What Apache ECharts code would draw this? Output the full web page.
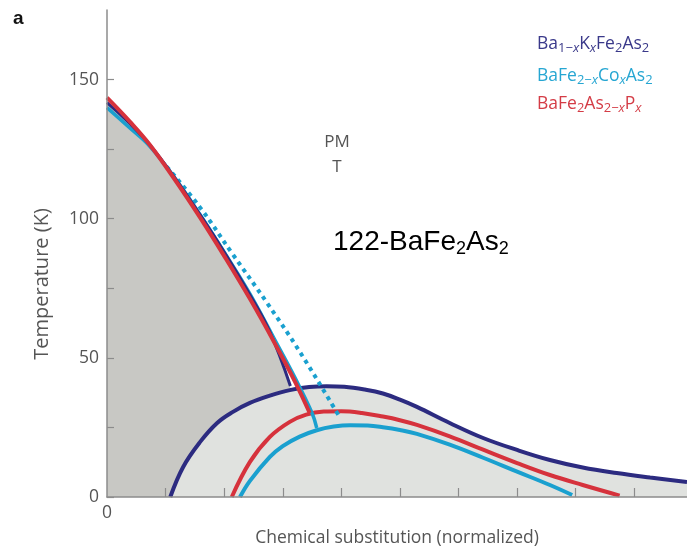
<!DOCTYPE html>
<html>
<head>
<meta charset="utf-8">
<script src="https://cdn.jsdelivr.net/npm/echarts@6/dist/echarts.min.js"></script>
<style>
  html, body { margin: 0; padding: 0; background: #fff; }
  #chart { width: 687px; height: 547px; }
</style>
</head>
<body>
<div id="chart"></div>
<script>
// Axis ticks and labels
const xTickValues = [1, 2, 3, 4, 5, 6, 7, 8, 9];
const xLabelValues = [0];
const yTickValues = [0, 25, 50, 75, 100, 125, 150];
const yLabelValues = [0, 50, 100, 150];

// Magnetic / structural transition lines: [substitution (normalized), T (K)]
const afmK  = [[0, 141.7], [0.39, 134.2], [0.73, 126.6], [1.16, 114.6], [1.59, 101.4], [2.01, 87.7], [2.44, 72.6], [2.78, 59.3], [3.13, 39.9]];
const afmP  = [[0, 143.5], [0.39, 134.9], [0.73, 126.6], [1.16, 114.0], [1.59, 100.4], [2.01, 86.3], [2.44, 71.2], [2.87, 55.0], [3.21, 41.4], [3.46, 30.2]];
const afmCo = [[0, 139.9], [0.39, 132.6], [0.73, 126.0], [1.16, 114.6], [1.59, 101.4], [2.01, 87.7], [2.44, 73.0], [2.92, 54.3], [3.21, 42.8], [3.50, 30.2], [3.58, 24.8]];
const structCo = [[1.02, 118.7], [1.59, 104.0], [2.15, 87.1], [2.73, 69.8], [3.29, 52.2], [3.98, 28.4]];

// Superconducting domes
const scK  = [[1.08, 0], [1.30, 10.8], [1.59, 19.8], [1.88, 26.6], [2.15, 30.6], [2.44, 33.8], [2.78, 36.4], [3.12, 38.4], [3.45, 39.5], [3.75, 39.8], [4.05, 39.6], [4.40, 38.6], [4.71, 37.2], [5.00, 35.0], [5.29, 32.4], [5.85, 26.6], [6.42, 21.2], [7.00, 16.9], [7.56, 13.3], [8.12, 10.6], [8.70, 8.6], [9.27, 7.0], [9.90, 5.4]];
const scP  = [[2.13, 0], [2.44, 12.6], [2.78, 21.6], [3.12, 27.0], [3.40, 29.6], [3.70, 30.7], [4.00, 30.8], [4.35, 30.2], [4.71, 28.9], [5.00, 27.6], [5.29, 25.9], [5.85, 21.8], [6.42, 17.0], [7.00, 12.2], [7.56, 7.9], [8.12, 4.3], [8.75, 0.5]];
const scCo = [[2.27, 0], [2.44, 5.8], [2.78, 14.4], [3.00, 18.3], [3.29, 21.7], [3.58, 24.0], [3.87, 25.3], [4.15, 25.8], [4.45, 25.7], [4.71, 25.1], [5.00, 24.1], [5.29, 22.7], [5.85, 18.8], [6.42, 14.1], [7.00, 9.1], [7.56, 4.3], [7.94, 0.7]];

const NAVY = '#2c2b80';
const CYAN = '#1aa0cf';
const RED = '#d6323c';
const AXIS = '#8c8c8c';
const TEXT = '#555555';
const FONT = '"Open Sans", "Noto Sans", sans-serif';
const ARIAL = '"Liberation Sans", Arial, sans-serif';

const chart = echarts.init(document.getElementById('chart'), null, { renderer: 'canvas' });

function line(name, data, color, width, z, extra) {
  return Object.assign({
    name, type: 'line', data, smooth: 0.4, symbol: 'none', z,
    lineStyle: { color, width, cap: 'butt' }, silent: true
  }, extra || {});
}

// Rich text pieces for chemical formulas with subscripts
function richFormula(color, size, subSize) {
  return {
    m: { fontSize: size, fontFamily: FONT, fill: color, lineHeight: 22, verticalAlign: 'middle' },
    s: { fontSize: subSize, fontFamily: FONT, fill: color, lineHeight: 10, verticalAlign: 'bottom' },
    i: { fontSize: subSize, fontFamily: FONT, fill: color, fontStyle: 'italic', lineHeight: 10, verticalAlign: 'bottom' }
  };
}

function formulaText(text, x, y, color) {
  return {
    type: 'text', x, y, silent: true,
    style: { text, align: 'left', verticalAlign: 'middle', rich: richFormula(color, 17.5, 13), fill: color }
  };
}

const option = {
  animation: false,
  grid: { left: 107, right: 0, top: 10, bottom: 50, containLabel: false, outerBoundsMode: 'none' },
  xAxis: {
    type: 'value', min: 0, max: 9.9, z: 10,
    name: 'Chemical substitution (normalized)',
    nameLocation: 'middle', nameGap: 32,
    nameTextStyle: { color: TEXT, fontSize: 17.5, fontFamily: FONT },
    axisLine: { show: true, onZero: false, lineStyle: { color: AXIS, width: 1.5 } },
    axisTick: { show: true, inside: true, length: 9, customValues: xTickValues, lineStyle: { color: AXIS, width: 1.2 } },
    axisLabel: { customValues: xLabelValues, color: TEXT, fontSize: 17.5, fontFamily: FONT, margin: 7 },
    splitLine: { show: false }
  },
  yAxis: {
    type: 'value', min: 0, max: 175, z: 10,
    axisLine: { show: true, onZero: false, lineStyle: { color: AXIS, width: 1.5 } },
    axisTick: { show: true, inside: true, length: 7, customValues: yTickValues, lineStyle: { color: AXIS, width: 1.2 } },
    axisLabel: { customValues: yLabelValues, color: TEXT, fontSize: 17.5, fontFamily: FONT, margin: 8 },
    splitLine: { show: false }
  },
  series: [
    // ordered (AFM) region
    line('afmRegion', afmK, 'rgba(0,0,0,0)', 0, 1, { areaStyle: { color: '#c8c8c4', opacity: 1 } }),
    // superconducting region
    line('scRegion', scK, 'rgba(0,0,0,0)', 0, 2, { areaStyle: { color: '#e0e2df', opacity: 1 } }),
    line('scK', scK, NAVY, 4, 3),
    line('scP', scP, RED, 4, 4),
    line('scCo', scCo, CYAN, 4, 4),
    line('structCo', structCo, CYAN, 4, 5, { lineStyle: { color: CYAN, width: 4, type: [4, 4.5], cap: 'butt' } }),
    line('afmCo', afmCo, CYAN, 3.5, 6),
    line('afmK', afmK, NAVY, 3, 7),
    line('afmP', afmP, RED, 4, 8)
  ],
  graphic: [
    { type: 'text', x: 13, y: 9, silent: true,
      style: { text: 'a', fontSize: 19, fontWeight: 'bold', fontFamily: ARIAL, fill: '#111' } },
    { type: 'text', x: 42, y: 284, rotation: Math.PI / 2, silent: true,
      style: { text: 'Temperature (K)', align: 'center', verticalAlign: 'middle', fontSize: 20, fontFamily: FONT, fill: TEXT } },
    { type: 'text', x: 337, y: 155, silent: true,
      style: { text: 'PM\nT', align: 'center', verticalAlign: 'middle', lineHeight: 25, fontSize: 17, fontFamily: FONT, fill: TEXT } },
    { type: 'text', x: 175, y: 342, silent: true,
      style: { text: 'AFM\nO', align: 'center', verticalAlign: 'middle', lineHeight: 27, fontSize: 17.5, fontFamily: FONT, fill: '#444' } },
    { type: 'text', x: 350, y: 455, silent: true,
      style: { text: 'SC', align: 'center', verticalAlign: 'middle', fontSize: 17.5, fontFamily: FONT, fill: '#444' } },
    { type: 'text', x: 333, y: 242, silent: true,
      style: {
        text: '{m|122-BaFe}{s|2}{m|As}{s|2}', align: 'left', verticalAlign: 'middle',
        rich: {
          m: { fontSize: 28, fontFamily: ARIAL, fill: '#000', lineHeight: 32, verticalAlign: 'middle' },
          s: { fontSize: 18, fontFamily: ARIAL, fill: '#000', lineHeight: 12, verticalAlign: 'bottom' }
        }
      } },
    formulaText('{m|Ba}{s|1−}{i|x}{m|K}{i|x}{m|Fe}{s|2}{m|As}{s|2}', 537, 44, '#3a398a'),
    formulaText('{m|BaFe}{s|2−}{i|x}{m|Co}{i|x}{m|As}{s|2}', 537, 76, '#26a6d2'),
    formulaText('{m|BaFe}{s|2}{m|As}{s|2−}{i|x}{m|P}{i|x}', 537, 104, '#d43c46')
  ]
};

chart.setOption(option);
</script>
</body>
</html>
